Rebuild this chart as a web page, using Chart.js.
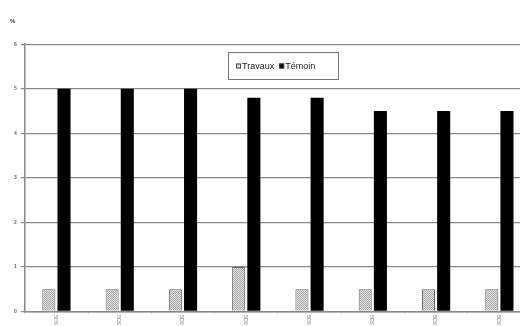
<!DOCTYPE html>
<html>
<head>
<meta charset="utf-8">
<script src="https://cdn.jsdelivr.net/npm/chart.js@4"></script>
<style>
  html, body { margin: 0; padding: 0; background: #fff; overflow: hidden; }
  #wrap { width: 540px; height: 326px; }
</style>
</head>
<body>
<div id="wrap"><canvas id="chart"></canvas></div>
<script>
// Chart data
const categories = ['SOE', 'SOE', 'SOE', 'SOE', 'SOE', 'SOE', 'SOE', 'SOE'];
const travaux = [0.5, 0.5, 0.5, 1, 0.5, 0.5, 0.5, 0.5];
const temoin = [5, 5, 5, 4.8, 4.8, 4.5, 4.5, 4.5];
const yTicks = [0, 1, 2, 3, 4, 5, 6];

// Dotted grey fill for the "Travaux" bars
function makePattern() {
    const c = document.createElement('canvas');
    c.width = 2;
    c.height = 2;
    const ctx = c.getContext('2d');
    ctx.fillStyle = '#e2e2e2';
    ctx.fillRect(0, 0, 2, 2);
    ctx.fillStyle = '#a8a8a8';
    ctx.fillRect(0, 0, 1, 1);
    ctx.fillRect(1, 1, 1, 1);
    return ctx.createPattern(c, 'repeat');
}

// Legend drawn inside the plot, with a box round it
const innerLegend = {
    id: 'innerLegend',
    afterDraw(chart) {
        const ctx = chart.ctx;
        const x = 228, y = 52, w = 110, h = 27;
        ctx.save();
        ctx.fillStyle = '#fff';
        ctx.fillRect(x, y, w, h);
        ctx.strokeStyle = '#777';
        ctx.lineWidth = 1;
        ctx.strokeRect(x + 0.5, y + 0.5, w, h);
        ctx.font = '9px "Liberation Sans", Arial, sans-serif';
        ctx.textBaseline = 'middle';
        let cx = x + 8;
        const cy = y + h / 2 + 1;
        chart.data.datasets.forEach((ds, i) => {
            ctx.fillStyle = i === 0 ? '#ddd' : '#000';
            ctx.fillRect(cx, cy - 3, 5, 5);
            ctx.strokeStyle = '#444';
            ctx.strokeRect(cx + 0.5, cy - 2.5, 4, 4);
            ctx.fillStyle = '#222';
            ctx.fillText(ds.label, cx + 6, cy);
            cx += 6 + ctx.measureText(ds.label).width + 5;
        });
        ctx.restore();
    }
};

new Chart(document.getElementById('chart'), {
    type: 'bar',
    data: {
        labels: categories,
        datasets: [
            {
                label: 'Travaux',
                data: travaux,
                backgroundColor: makePattern(),
                borderColor: '#666',
                borderWidth: 1,
                categoryPercentage: 0.48,
                barPercentage: 0.86
            },
            {
                label: 'Témoin',
                data: temoin,
                backgroundColor: '#000',
                borderColor: '#000',
                borderWidth: 0,
                categoryPercentage: 0.48,
                barPercentage: 0.86
            }
        ]
    },
    options: {
        responsive: true,
        maintainAspectRatio: false,
        animation: false,
        layout: { padding: { left: 10, right: 9, top: 0, bottom: 0 } },
        plugins: {
            legend: { display: false },
            tooltip: { enabled: false },
            title: {
                display: true,
                text: '%',
                align: 'start',
                color: '#444',
                font: { size: 6, family: 'Liberation Sans', weight: 'bold' },
                padding: { top: 18, bottom: 19 }
            }
        },
        scales: {
            x: {
                grid: {
                    display: true,
                    drawOnChartArea: false,
                    offset: true,
                    color: '#999',
                    tickLength: 2
                },
                border: { color: '#888', width: 1.5 },
                ticks: {
                    color: '#777',
                    font: { size: 5, family: 'Liberation Sans' },
                    maxRotation: 90,
                    minRotation: 90,
                    padding: 1
                }
            },
            y: {
                min: 0,
                max: 6,
                afterBuildTicks: (axis) => { axis.ticks = yTicks.map(v => ({ value: v })); },
                grid: { color: '#888', lineWidth: 1.2, tickLength: 4 },
                border: { color: '#888', width: 1.5 },
                ticks: {
                    color: '#666',
                    font: { size: 5, family: 'Liberation Sans', weight: 'bold' },
                    padding: 4
                }
            }
        }
    },
    plugins: [innerLegend]
});
</script>
</body>
</html>
